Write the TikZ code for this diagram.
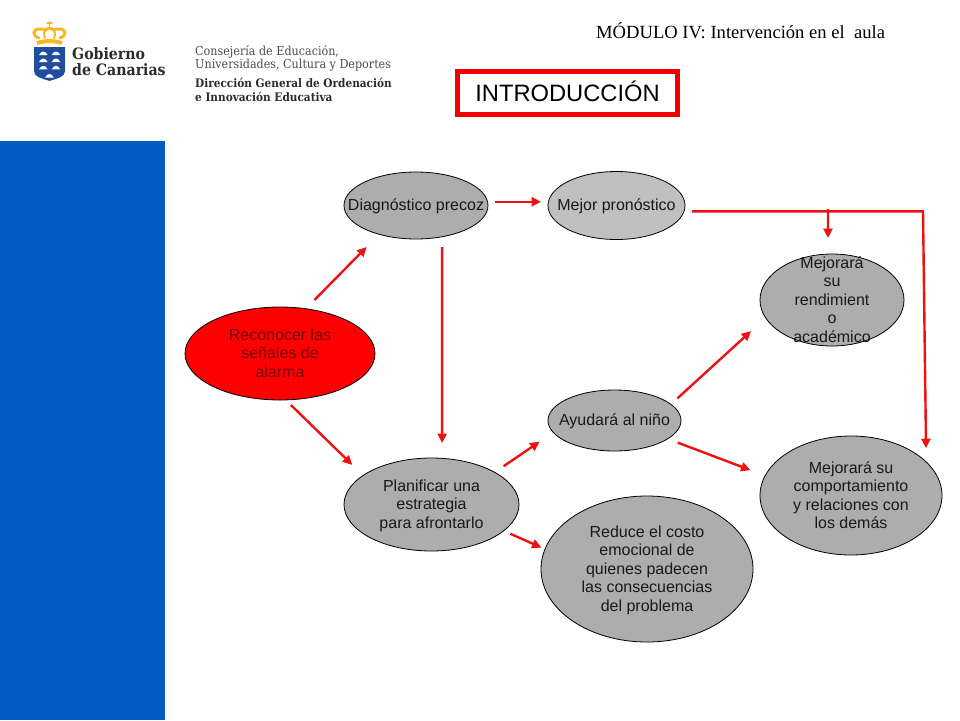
\documentclass[tikz,border=0pt]{standalone}
\usepackage{fontspec}
\setmainfont{Liberation Sans}
\newfontfamily\tituloserif{Liberation Serif}
\newfontfamily\logoserif{DejaVu Serif Condensed}
\usetikzlibrary{shapes.geometric, arrows.meta}
\definecolor{rojoflecha}{HTML}{EE1111}
\definecolor{rojotitulo}{HTML}{F40000}
\definecolor{rojooscuro}{HTML}{780000}
\definecolor{grisnodo}{HTML}{ADADAD}
\definecolor{grisclaro}{HTML}{C0C0C0}
\definecolor{azulbanda}{HTML}{005BC2}
\definecolor{azulescudo}{HTML}{1F4E9E}
\definecolor{amarillocorona}{HTML}{F6B91E}
\definecolor{tintalogo}{HTML}{2B2B2B}
\newcommand{\rotulo}[1]{\makebox[0pt]{\smash{\raisebox{-6pt}{\begin{tabular}{@{}c@{}}#1\end{tabular}}}}}
\tikzset{
    burbuja/.style={ellipse, draw=black, line width=0.8pt, fill=grisnodo, inner sep=0pt, outer sep=0pt, text=black!90, font=\fontsize{16}{18.5}\selectfont},
    flecha/.style={draw=rojoflecha, line width=2.4pt, -{Triangle[length=9.5pt, width=9pt]}},
    corona/.style={draw=amarillocorona, line width=3pt, line cap=round},
    logotexto/.style={anchor=base west, inner sep=0pt, text=tintalogo, font=\logoserif\bfseries\fontsize{15.7}{16}\selectfont},
    consejo/.style={anchor=base west, inner sep=0pt, text=black!70, font=\logoserif\fontsize{12.4}{13}\selectfont},
    direccion/.style={anchor=base west, inner sep=0pt, text=tintalogo, font=\logoserif\bfseries\fontsize{11.7}{13}\selectfont}
}
\begin{document}
\begin{tikzpicture}[x=1pt, y=-1pt]
    \useasboundingbox (0,0) rectangle (960,720);
    \fill[azulbanda] (0,141) rectangle (165,720);

    % logo
    \fill[azulescudo] (34,47) -- (65,47) -- (65,71) .. controls (65,77) and (58,78) .. (49.5,81) .. controls (41,78) and (34,77) .. (34,71) -- cycle;
    \foreach \x/\y in {43.3/53, 56/53, 43.3/60, 56/60, 43.3/67.3, 56/67.3, 49.5/75.5}
        \fill[white] (\x-4.3,\y+2) .. controls (\x-1.8,\y-2.6) and (\x+1.8,\y-2.6) .. (\x+4.3,\y+2) -- cycle;
    \draw[corona] (39,38) .. controls (32,36) and (32,28) .. (41,29) .. controls (45,29.5) and (48,30) .. (49.5,28) .. controls (51,30) and (54,29.5) .. (58,29) .. controls (67,28) and (67,36) .. (60,38);
    \draw[corona, line width=2pt] (45,38) .. controls (43,34) and (44,31) .. (47,29);
    \draw[corona, line width=2pt] (54,38) .. controls (56,34) and (55,31) .. (52,29);
    \draw[corona, line width=4pt, line cap=butt] (37,43) .. controls (45,40.5) and (54,40.5) .. (62,43);
    \draw[corona, line width=1.6pt] (49.5,21) -- (49.5,27) (47,23.2) -- (52,23.2);
    \node[logotexto] (gobierno) at (72,59) {Gobierno};
    \node[logotexto] (canarias) at (72,75) {de Canarias};
    \node[consejo] (consejeria) at (195,55.5) {Consejería de Educación,};
    \node[consejo] (universidades) at (195,68.5) {Universidades, Cultura y Deportes};
    \node[direccion] (dgeneral) at (195,87.5) {Dirección General de Ordenación};
    \node[direccion] (innovacion) at (195,101) {e Innovación Educativa};

    % cabecera
    \node[anchor=base west, inner sep=0pt, font=\tituloserif\fontsize{18.6}{20}\selectfont] (modulo) at (596,38) {MÓDULO IV: Intervención en el\ \ aula};
    \node[draw=rojotitulo, line width=4.6pt, fill=white, minimum width=220.5pt, minimum height=43.2pt, inner sep=0pt, font=\fontsize{23.7}{28}\selectfont] (titulo) at (567.5,92.9) {\raisebox{2.5pt}{INTRODUCCIÓN}};

    % nodos
    \node[burbuja, fill=red, text=rojooscuro, minimum width=190pt, minimum height=93pt] (alarma) at (280,353.5) {\rotulo{Reconocer las\\señales de\\alarma}};
    \node[burbuja, minimum width=144pt, minimum height=67pt] (diagnostico) at (416,205.5) {\rotulo{Diagnóstico precoz}};
    \node[burbuja, fill=grisclaro, minimum width=137pt, minimum height=68pt] (pronostico) at (616.5,205.5) {\rotulo{Mejor pronóstico}};
    \node[burbuja, minimum width=175pt, minimum height=93pt] (planificar) at (431.5,504.5) {\rotulo{Planificar una\\estrategia\\para afrontarlo}};
    \node[burbuja, minimum width=133pt, minimum height=61pt] (ayudara) at (614.5,420.5) {\rotulo{Ayudará al niño}};
    \node[burbuja, minimum width=212pt, minimum height=146pt] (reduce) at (647,569) {\rotulo{Reduce el costo\\emocional de\\quienes padecen\\las consecuencias\\del problema}};
    \node[burbuja, minimum width=144pt, minimum height=92pt] (rendimiento) at (832,300) {\rotulo{Mejorará\\su\\rendimient\\o\\académico}};
    \node[burbuja, minimum width=182pt, minimum height=119pt] (comportamiento) at (851,495.5) {\rotulo{Mejorará su\\comportamiento\\y relaciones con\\los demás}};

    % flechas
    \draw[flecha, shorten <=12.3pt, shorten >=17.8pt] (alarma.60.5) -- (diagnostico.218.4);
    \draw[flecha, shorten <=7.2pt, shorten >=15.1pt] (alarma.277) -- (planificar.157.3);
    \draw[flecha, shorten <=7.7pt, shorten >=7.6pt] (diagnostico.3.6) -- (pronostico.176.2 |- diagnostico.3.6);
    \draw[flecha, shorten <=10.3pt, shorten >=15.3pt] (diagnostico.-50.2) -- (planificar.77.2);
    \draw[flecha, shorten <=10.8pt, shorten >=16.5pt] (planificar.27.6) -- (ayudara.191.6);
    \draw[flecha, shorten <=7.2pt, shorten >=3.8pt] (planificar.-20.1) -- (reduce.169.9);
    \draw[flecha, shorten <=8.9pt, shorten >=19.7pt] (ayudara.16.4) -- (rendimiento.195);
    \draw[flecha, shorten <=10.7pt, shorten >=15.7pt] (ayudara.-19.6) -- (comportamiento.167.6);
    \coordinate (codo) at (923,0 |- pronostico.-5.2);
    \coordinate (ramal) at (828,209);
    \draw[flecha, shorten <=7.9pt, shorten >=13.8pt] (pronostico.-5.2) -- (codo) -- (comportamiento.24.2);
    \draw[flecha, shorten >=16pt] (ramal) -- (rendimiento.95);
\end{tikzpicture}
\end{document}
